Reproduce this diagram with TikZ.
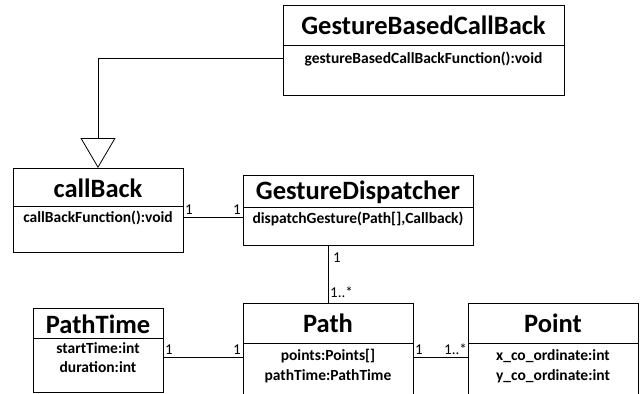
\documentclass[tikz,border=0pt]{standalone}
\usepackage{fontspec}
\setmainfont{Carlito}
\usetikzlibrary{arrows.meta}
\begin{document}
\begin{tikzpicture}[x=1pt,y=-1pt,
  classbox/.style={draw,line width=0.9pt,rectangle,anchor=north west,inner sep=0pt},
  ttl/.style={font=\fontsize{26.5}{28}\selectfont\bfseries,inner sep=0pt},
  mem/.style={font=\fontsize{15.5}{17}\selectfont\bfseries,inner sep=0pt},
  mult/.style={font=\fontsize{15}{17}\selectfont,inner sep=0pt},
  conn/.style={line width=0.8pt}]
\clip (0,0) rectangle (644,393);
\useasboundingbox (0,0) rectangle (644,393);
% boxes
\node[classbox,minimum width=281pt,minimum height=90pt] (gbcb) at (283,5) {};
\node[classbox,minimum width=170pt,minimum height=84pt] (cb) at (13,168) {};
\node[classbox,minimum width=230pt,minimum height=70pt] (gd) at (243,175) {};
\node[classbox,minimum width=130pt,minimum height=84pt] (pt) at (33,308) {};
\node[classbox,minimum width=170pt,minimum height=100pt] (pa) at (243,303) {};
\node[classbox,minimum width=170pt,minimum height=100pt] (po) at (468,303) {};
% dividers
\draw[line width=0.9pt] (283,45) -- (564,45);
\draw[line width=0.9pt] (13,206) -- (183,206);
\draw[line width=0.9pt] (243,207) -- (473,207);
\draw[line width=0.9pt] (33,338) -- (163,338);
\draw[line width=0.9pt] (243,343) -- (413,343);
\draw[line width=0.9pt] (468,343) -- (638,343);
% texts
\node[ttl] (t1) at (423.5,25) {GestureBasedCallBack};
\node[mem] (m1) at (423.5,59) {gestureBasedCallBackFunction():void};
\node[ttl] (t2) at (98,188) {callBack};
\node[mem] (m2) at (98,218) {callBackFunction():void};
\node[ttl] (t3) at (358,192) {GestureDispatcher};
\node[mem] (m3) at (358,219) {dispatchGesture(Path[],Callback)};
\node[ttl] (t4) at (98,324) {PathTime};
\node[mem] (m4a) at (98,348) {startTime:int};
\node[mem] (m4b) at (98,367) {duration:int};
\node[ttl] (t5) at (328,323) {Path};
\node[mem] (m5a) at (328,356) {points:Points[]};
\node[mem] (m5b) at (328,376) {pathTime:PathTime};
\node[ttl] (t6) at (553,323) {Point};
\node[mem] (m6a) at (553,356) {x\_co\_ordinate:int};
\node[mem] (m6b) at (553,376) {y\_co\_ordinate:int};
% connectors
\draw[conn,-{Triangle[open,length=30pt,width=35pt,line width=0.8pt]}]
  (gbcb.west |- 0,58) -- (98,58) -- (cb.north -| 98,0);
\draw[conn] (cb.east |- 0,217) -- (gd.west |- 0,217);
\draw[conn] (gd.south -| 328,0) -- (pa.north -| 328,0);
\draw[conn] (pt.east |- 0,357) -- (pa.west |- 0,357);
\draw[conn] (pa.east |- 0,357) -- (po.west |- 0,357);
% multiplicities
\node[mult,anchor=south west] (l1) at (185,215) {1};
\node[mult,anchor=south east] (l2) at (241,215) {1};
\node[mult,anchor=west] (l3) at (333,258) {1};
\node[mult,anchor=west] (l4) at (330,292) {1..*};
\node[mult,anchor=south west] (l5) at (165,355) {1};
\node[mult,anchor=south east] (l6) at (241,355) {1};
\node[mult,anchor=south west] (l7) at (415,355) {1};
\node[mult,anchor=south east] (l8) at (467,355) {1..*};
\end{tikzpicture}
\end{document}
